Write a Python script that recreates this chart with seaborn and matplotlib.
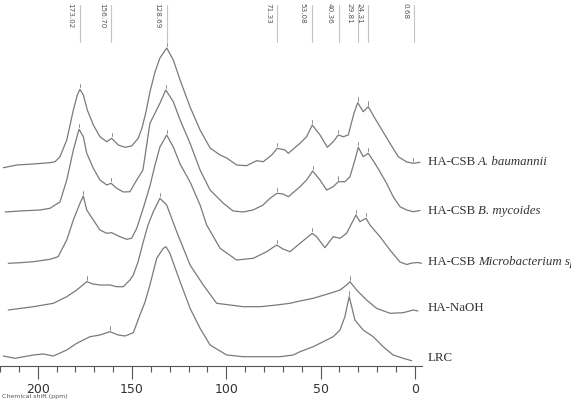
import numpy as np
import pandas as pd
import matplotlib
matplotlib.use("Agg")
import matplotlib.pyplot as plt
import seaborn as sns
from matplotlib.ticker import FixedLocator

# ---------------- data (chemical shift in ppm, intensity in arbitrary units) ----------------
names = ["HA-CSB A. baumannii", "HA-CSB B. mycoides", "HA-CSB Microbacterium sp.", "HA-NaOH", "LRC"]
label_plain = ["HA-CSB ", "HA-CSB ", "HA-CSB ", "HA-NaOH", "LRC"]
label_italic = ["A. baumannii", "B. mycoides", "Microbacterium sp.", "", ""]

ppm_1 = [218.2, 211.1, 202.5, 193.5, 190.8, 188.2, 184.6, 181.1, 179.0, 177.6, 175.8, 173.7, 170.5, 167.0,
         163.4, 160.8, 157.3, 153.7, 150.2, 146.7, 144.7, 142.6, 140.5, 137.8, 135.2, 131.6, 128.1, 124.5,
         119.2, 113.9, 108.6, 103.3, 99.8, 94.5, 89.2, 83.9, 80.4, 75.9, 73.0, 68.9, 67.1, 60.9, 57.4, 54.4,
         50.3, 46.4, 43.3, 40.6, 38.0, 35.3, 32.3, 30.3, 27.4, 24.7, 21.2, 18.5, 13.2, 8.8, 4.3, 0.8, -2.7]
int_1 = [-5.7, -3, -2, -0.7, 0.3, 5.3, 22, 52, 67, 72.7, 67, 52, 37, 25.3,
         20.3, 23.7, 17, 14.7, 16, 23.7, 34, 50, 70, 90, 104, 114, 102, 82,
         55, 32, 14, 7, 4, -3, -3.7, 1.3, 0.3, 7, 13.7, 12, 8.7, 18.7, 25.3, 37,
         27, 14.7, 20.3, 27, 25.3, 27, 48.7, 59.3, 50.3, 55.3, 43.7, 35.3, 18.7, 5.3, 0, -1.3, -0.3]

ppm_2 = [217.3, 209.4, 198.8, 193.5, 190.8, 188.2, 184.6, 181.1, 178.1, 175.8, 174.0, 170.5, 167.0, 163.4,
         161.1, 158.1, 154.6, 151.1, 147.5, 144.2, 140.5, 135.2, 132.1, 128.1, 124.5, 119.2, 113.9, 108.6,
         101.7, 96.4, 91.1, 85.8, 80.5, 76.8, 73.1, 69.9, 67.1, 60.9, 57.4, 54.2, 50.3, 46.8, 43.3, 40.6,
         37.1, 34.4, 31.8, 30.0, 27.4, 24.7, 21.2, 18.5, 15.0, 11.5, 7.9, 4.3, 0.8, -2.7]
int_2 = [-1, 0, 1, 2.7, 6, 9, 31, 61, 81.7, 74.3, 57.7, 42.7, 31, 26,
         27.7, 22.7, 19, 19.3, 31, 41, 87.7, 107.7, 121, 109.3, 91, 67.7, 41, 21,
         8, 0, -1, 1, 6, 12.7, 17.7, 17, 14.3, 24.3, 31, 40, 31, 21, 24.3, 29.3,
         29.3, 34.3, 51, 63.7, 54.3, 57.7, 47.7, 39.3, 27.7, 14.3, 4.3, 1, -0.7, 0.5]

ppm_3 = [215.6, 209.4, 202.3, 193.5, 189.2, 184.6, 181.1, 177.6, 175.8, 174.0, 170.5, 167.0, 163.4, 160.8,
         156.4, 152.8, 150.2, 147.5, 144.0, 140.5, 137.8, 135.2, 131.6, 128.1, 124.5, 119.2, 113.9, 110.4,
         103.3, 94.5, 85.7, 78.6, 73.3, 69.9, 66.2, 60.9, 54.4, 52.1, 47.7, 43.3, 39.7, 36.2, 33.5, 31.2,
         29.1, 25.9, 23.8, 18.5, 13.2, 7.9, 4.3, 1.5, -1.6, -3.5]
int_3 = [-0.3, 0.3, 1.3, 3.7, 6.3, 23, 43, 59.7, 67, 53, 43, 33, 29.7, 30.3,
         26.3, 23.7, 24.7, 34.7, 55, 77, 98, 116, 128, 116, 99, 81, 58, 38,
         14.7, 3, 4.7, 11.3, 18, 14, 11.3, 19.7, 29.7, 26.3, 15.3, 26.3, 24.7, 29.7, 39.7, 48,
         41.3, 44.7, 38, 26.3, 13, 1, -1.5, 0, 0.5, -0.3]

ppm_4 = [215.6, 202.3, 191.7, 184.6, 179.3, 174.0, 170.7, 167.0, 161.7, 158.1, 154.6, 151.1, 149.3, 146.8,
         144.0, 141.5, 138.7, 135.2, 131.6, 126.3, 119.2, 112.2, 105.1, 98.0, 91.0, 82.1, 73.3, 66.2, 62.7,
         53.9, 45.0, 39.7, 36.2, 34.4, 30.9, 25.6, 20.3, 13.2, 6.2, 0.8, -1.6]
int_4 = [0, 3.3, 6.7, 13.3, 20, 28.3, 26, 25, 25, 23.3, 23.3, 30, 35, 48,
         68.3, 85, 98.3, 111.7, 105, 78.3, 45, 25, 6.7, 5, 3.3, 3.3, 5, 6.7, 8.3,
         11.7, 16.7, 20, 25, 28.3, 20, 10, 1.7, -3.3, -2.7, 0, -1]

ppm_5 = [218.2, 212.0, 202.3, 197.0, 191.7, 184.6, 179.3, 172.3, 167.0, 161.7, 157.3, 153.7, 149.3, 145.8,
         143.1, 140.5, 136.9, 133.4, 132.0, 129.9, 124.5, 119.2, 113.9, 108.6, 99.8, 91.0, 82.1, 71.5, 64.5,
         60.9, 53.9, 48.6, 43.3, 39.7, 37.1, 35.6, 34.8, 33.5, 31.8, 27.4, 22.1, 16.8, 11.5, 6.2, 1.7]
int_5 = [2, -0.3, 3, 4, 2, 8, 14.7, 21.3, 23, 26.3, 23, 22, 25.3, 43,
         56, 73, 99.7, 109.7, 111.3, 104.7, 76.3, 49.7, 29.7, 13, 3, 1.3, 1.3, 1.3, 3,
         6.3, 11.3, 16.3, 21.3, 28, 41.3, 54.7, 61.3, 51.3, 38, 28, 21.3, 11.3, 3, -0.3, -2.7]

# peak-picking marks on each spectrum (ppm)
marks_1 = [177.6, 160.8, 131.6, 73.0, 54.4, 40.6, 30.3, 24.7, 0.8]
marks_2 = [178.1, 161.1, 132.1, 73.1, 54.2, 40.6, 30.0, 24.7]
marks_3 = [175.8, 131.6, 73.3, 54.4, 31.2, 25.9]
marks_4 = [174.0, 135.2, 34.4]
marks_5 = [161.7, 34.8]

# peak labels at the top
peak_labels = ["173.02", "156.70", "128.69", "71.33", "53.08", "40.36", "29.81", "24.31", "0.68"]
peak_label_pos = [177.6, 161.1, 131.7, 72.9, 54.6, 40.2, 29.9, 24.6, 0.2]

tick_values = [200, 150, 100, 50, 0]

# ---------------- layout / style ----------------
offsets = [204, 155, 103, 56, 8]
line_color = "#7a7a7a"

sns.set_style("white")
fig = plt.figure(figsize=(5.71, 3.99), dpi=100)
ax = fig.add_axes([0, 0, 1, 1])
ax.set_facecolor("white")

all_ppm = [ppm_1, ppm_2, ppm_3, ppm_4, ppm_5]
all_int = [int_1, int_2, int_3, int_4, int_5]
all_marks = [marks_1, marks_2, marks_3, marks_4, marks_5]

frames = []
for name, p, i, off in zip(names, all_ppm, all_int, offsets):
    frames.append(pd.DataFrame({"ppm": p, "y": np.array(i) + off, "sample": name}))
df = pd.concat(frames, ignore_index=True)

sns.lineplot(data=df, x="ppm", y="y", hue="sample", palette=[line_color] * 5,
             estimator=None, sort=True, linewidth=0.9, legend=False, ax=ax)

# peak marks
for p, i, off, mk in zip(all_ppm, all_int, offsets, all_marks):
    order = np.argsort(p)
    pp = np.array(p)[order]
    ii = np.array(i)[order] + off
    for m in mk:
        yv = np.interp(m, pp, ii)
        ax.plot([m, m], [yv + 2, yv + 5.5], color=line_color, lw=0.6)

ax.set_xlim(220.0, -82.8)
ax.set_ylim(-33, 366)

# peak labels at the top
for lab, pos in zip(peak_labels, peak_label_pos):
    ax.plot([pos, pos], [324, 361], color="#c4c4c4", lw=0.8)
    ax.text(pos + 5.0, 363, lab, rotation=270, ha="center", va="top",
            fontsize=5.2, color="#555555", family=["Liberation Sans Narrow", "DejaVu Sans"])

# sample labels on the right
label_y = [366 - 162.3, 366 - 210.7, 366 - 261.7, 366 - 308.3, 366 - 358.3]
for lp, li, yv in zip(label_plain, label_italic, label_y):
    t = ax.text(-6.8, yv, lp, ha="left", va="center", fontsize=9.3,
                family="Liberation Serif", color="#333333")
    if li:
        ax.annotate(li, xy=(1, 0.5), xycoords=t, ha="left", va="center", fontsize=9.3,
                    family="Liberation Serif", style="italic", color="#333333",
                    annotation_clip=False)

# axis
for s in ["top", "right", "left"]:
    ax.spines[s].set_visible(False)
ax.spines["bottom"].set_position(("data", 0))
ax.spines["bottom"].set_bounds(-3.9, 220)
ax.spines["bottom"].set_color("#555555")
ax.spines["bottom"].set_linewidth(0.8)
ax.set_yticks([])
ax.set_xticks(tick_values)
ax.set_xticklabels([str(v) for v in tick_values])
ax.xaxis.set_minor_locator(FixedLocator([v for v in range(10, 221, 10) if v % 50 != 0]))
ax.tick_params(axis="x", which="major", direction="out", length=9.4, width=0.8,
               color="#555555", pad=2.5, labelsize=9, labelcolor="#333333", bottom=True)
ax.tick_params(axis="x", which="minor", direction="out", length=4.3, width=0.8,
               color="#555555", bottom=True)
for lbl in ax.get_xticklabels():
    lbl.set_fontfamily(["Liberation Sans Narrow", "DejaVu Sans"])
ax.set_xlabel("")
ax.set_ylabel("")

fig.text(0.003, 0.006, "Chemical shift (ppm)", fontsize=4.5, color="#555555",
         ha="left", va="center")

fig.savefig("out.png", dpi=100)
